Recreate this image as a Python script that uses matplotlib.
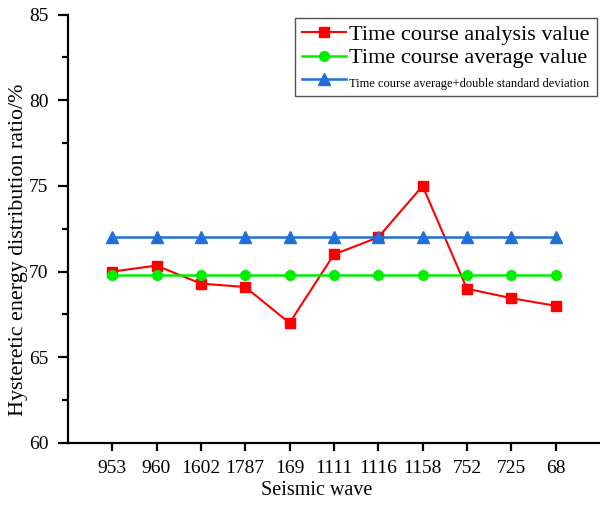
import matplotlib.pyplot as plt
import numpy as np
from matplotlib.ticker import MultipleLocator

waves = ['953', '960', '1602', '1787', '169', '1111', '1116', '1158', '752', '725', '68']
analysis = [70.0, 70.35, 69.3, 69.1, 67.0, 71.0, 72.0, 75.0, 69.0, 68.45, 68.0]
average = [69.8] * 11
upper = [72.0] * 11

plt.rcParams['font.family'] = ['Liberation Serif', 'DejaVu Serif']

fig = plt.figure(figsize=(6, 5.05), dpi=100)
ax = fig.add_axes([0.113, 0.123, 0.887, 0.848])

x = np.arange(1, len(waves) + 1)
ax.plot(x, analysis, color='#ff0000', marker='s', markersize=7, lw=1.5,
        label='Time course analysis value')
ax.plot(x, average, color='#00ee00', marker='o', markersize=7, lw=1.8,
        label='Time course average value')
ax.plot(x, upper, color='#1f6fdc', marker='^', markersize=8, lw=1.8,
        label='Time course average+double standard deviation')

ax.set_xlim(0, 12)
ax.set_ylim(60, 85)
ax.set_xticks(x)
ax.set_xticklabels(waves)
ax.yaxis.set_major_locator(MultipleLocator(5))
ax.yaxis.set_minor_locator(MultipleLocator(2.5))

for s in ['top', 'right']:
    ax.spines[s].set_visible(False)
for s in ['left', 'bottom']:
    ax.spines[s].set_linewidth(1.6)
ax.tick_params(which='major', direction='out', length=6, width=1.6, labelsize=14)
ax.tick_params(which='minor', direction='out', length=4, width=1.6)
ax.tick_params(axis='y', which='major', length=7, pad=7)
ax.tick_params(axis='x', pad=6)

ax.set_xlabel('Seismic wave', fontsize=14.5)
ax.xaxis.set_label_coords(0.468, -0.09)
ax.set_ylabel('Hysteretic energy distribution ratio/%', fontsize=15.8)
ax.yaxis.set_label_coords(-0.074, 0.45)

leg = ax.legend(loc='upper right', bbox_to_anchor=(1.0, 1.0), fancybox=False,
                edgecolor='#555555', framealpha=1, fontsize=16,
                handlelength=2.0, handletextpad=0.15, borderpad=0.3,
                labelspacing=0.12, borderaxespad=0.15)
leg.get_frame().set_linewidth(1.0)
leg.get_texts()[2].set_fontsize(9)

fig.savefig('out.png', dpi=100)
